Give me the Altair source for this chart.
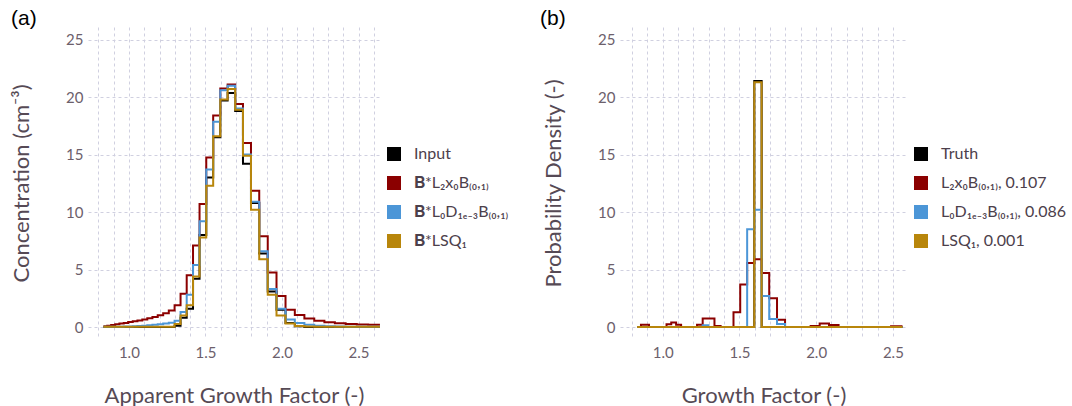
import altair as alt
import pandas as pd

# ---------------- data ----------------
edges = [0.8336, 0.8586, 0.8843, 0.9109, 0.9382, 0.9663, 0.9953, 1.0252, 1.0559, 1.0876,
         1.1202, 1.1538, 1.1884, 1.2240, 1.2607, 1.2985, 1.3375, 1.3776, 1.4189, 1.4615,
         1.5053, 1.5505, 1.5970, 1.6449, 1.6942, 1.7451, 1.7974, 1.8513, 1.9069, 1.9641,
         2.0230, 2.0837, 2.1462, 2.2106, 2.2769, 2.3452, 2.4156, 2.4881, 2.5627, 2.6396]

names_a = ["Input", "𝐁*L₂x₀B₍₀,₁₎", "𝐁*L₀D₁ₑ₋₃B₍₀,₁₎", "𝐁*LSQ₁"]
names_b = ["Truth", "L₂x₀B₍₀,₁₎, 0.107", "L₀D₁ₑ₋₃B₍₀,₁₎, 0.086", "LSQ₁, 0.001"]
colors = ["#000000", "#8B0000", "#4C96D7", "#B8860B"]

a_input = [0, 0, 0, 0, 0, 0, 0, 0, 0, 0, 0, 0, 0, 0, 0, 0.12, 0.8, 1.6, 4.2, 8.0,
           13.0, 16.5, 19.7, 20.35, 18.8, 14.2, 10.8, 6.4, 3.1, 1.5, 0.35, 0.08, 0, 0, 0,
           0, 0, 0, 0]
a_l2 = [0.08, 0.12, 0.18, 0.24, 0.3, 0.36, 0.43, 0.5, 0.58, 0.66, 0.76, 0.88, 1.02, 1.2,
        1.45, 1.9, 2.9, 4.5, 7.1, 10.7, 14.75, 18.4, 20.75, 21.1, 19.4, 16.0, 11.85, 7.9,
        4.75, 2.7, 1.5, 1.04, 0.75, 0.55, 0.42, 0.33, 0.27, 0.22, 0.19]
a_l0 = [0.02, 0.02, 0.02, 0.02, 0.03, 0.04, 0.05, 0.07, 0.09, 0.12, 0.15, 0.19, 0.24, 0.3,
        0.38, 0.55, 1.3, 2.8, 5.4, 9.2, 13.7, 17.85, 20.6, 21.0, 19.0, 15.0, 10.9, 6.6,
        3.3, 1.6, 0.65, 0.35, 0.2, 0.12, 0.08, 0.05, 0.03, 0.03, 0.03]
a_lsq = [0.02, 0.02, 0.02, 0.02, 0.02, 0.02, 0.02, 0.02, 0.02, 0.02, 0.02, 0.02, 0.02, 0.02,
         0.03, 0.26, 1.0, 1.9, 4.4, 7.8, 12.3, 16.6, 19.8, 20.7, 18.9, 14.9, 10.2, 5.9,
         2.8, 1.0, 0.3, 0.1, 0.04, 0.02, 0.02, 0.02, 0.02, 0.02, 0.02]

b_truth = [0, 0, 0, 0, 0, 0, 0, 0, 0, 0, 0, 0, 0, 0, 0, 0, 0, 0, 0, 0,
           0, 0, 21.4, 0, 0, 0, 0, 0, 0, 0, 0, 0, 0, 0, 0, 0, 0, 0]
b_l2 = [0, 0.2, 0.2, 0, 0, 0, 0, 0.25, 0.4, 0.2, 0, 0, 0, 0.2, 0.75, 0.75, 0.1, 0, 0, 1.28,
        3.7, 5.57, 5.9, 4.7, 2.5, 0.64, 0, 0, 0, 0.1, 0.3, 0.18, 0, 0, 0, 0, 0, 0.08]
b_l0 = [0, 0, 0, 0, 0, 0, 0, 0, 0, 0, 0, 0, 0, 0, 0.15, 0, 0, 0, 0, 0,
        0, 8.5, 10.2, 2.7, 0.7, 0.26, 0, 0, 0, 0, 0, 0, 0, 0, 0, 0, 0, 0]
b_lsq = [0, 0, 0, 0, 0, 0, 0, 0, 0, 0, 0, 0, 0, 0, 0, 0, 0, 0, 0, 0,
         0, 0, 21.3, 0, 0, 0, 0, 0, 0, 0, 0, 0, 0, 0, 0, 0, 0, 0]

x_grid = [0.8, 0.9, 1.0, 1.1, 1.2, 1.3, 1.4, 1.5, 1.6, 1.7, 1.8, 1.9, 2.0, 2.1, 2.2,
          2.3, 2.4, 2.5, 2.6]
y_grid = [0, 5, 10, 15, 20, 25]


def frame(values, name):
    vals = list(values) + [values[-1]]
    return pd.DataFrame({"x": edges[:len(vals)], "y": vals, "series": name})


df_a = pd.concat([frame(v, n) for v, n in zip([a_input, a_l2, a_l0, a_lsq], names_a)])
df_b = pd.concat([frame(v, n) for v, n in zip([b_truth, b_l2, b_l0, b_lsq], names_b)])

FONT = "Lato"
W_A, W_B, H = 292, 287, 312
LABEL_EXPR = ("abs(datum.value*2 - round(datum.value*2)) < 0.001 ? "
              "format(datum.value, '.1f') : ''")


def x_axis(title):
    return alt.Axis(title=title, values=x_grid, labelExpr=LABEL_EXPR, domain=False,
                    ticks=False, grid=True, gridColor="#D0D0E0", gridDash=[3, 3],
                    labelFont=FONT, labelFontSize=15, labelColor="#6C606B",
                    labelPadding=6, labelFlush=False, labelOverlap=False,
                    titleFont=FONT, titleFontSize=22, titleFontWeight="normal",
                    titleColor="#564A55", titleY=56, titleBaseline="middle")


def y_axis(title):
    return alt.Axis(title=title, values=y_grid, domain=False, ticks=False, grid=True,
                    gridColor="#D0D0E0", gridDash=[3, 3], labelFont=FONT,
                    labelFontSize=15, labelColor="#6C606B", labelPadding=5,
                    titleFont=FONT, titleFontSize=22, titleFontWeight="normal",
                    titleColor="#564A55", titleAngle=-90, titleX=-67, titleY=H / 2,
                    titleAlign="center", titleBaseline="middle")


def panel(df, names, xdom, width, xtitle, ytitle, tag, tag_dx):
    xenc = alt.X("x:Q", scale=alt.Scale(domain=xdom, nice=False, zero=False),
                 axis=x_axis(xtitle))
    yenc = alt.Y("y:Q", scale=alt.Scale(domain=[-1.04, 26.1], nice=False, zero=False),
                 axis=y_axis(ytitle))
    cscale = alt.Scale(domain=names, range=colors)
    legend = alt.Legend(title=None, orient="none", legendX=width + 6, legendY=119,
                        symbolType="square", symbolSize=196, symbolStrokeWidth=0,
                        labelFont=FONT, labelFontSize=16, labelColor="#4C404B",
                        labelOffset=12, rowPadding=13, padding=0, labelLimit=300)
    base = alt.Chart(df).mark_line(interpolate="step-after", strokeWidth=2, clip=True).encode(
        x=xenc, y=yenc,
        stroke=alt.Stroke("series:N", scale=cscale, sort=names, legend=None),
    )
    layers = [base.transform_filter(alt.datum.series == n) for n in names]
    keys = alt.Chart(df).mark_square(size=0, filled=True, opacity=1).encode(
        x=xenc, y=yenc,
        fill=alt.Fill("series:N", scale=cscale, sort=names, legend=legend),
    )
    label = alt.Chart(pd.DataFrame({"tag": [tag]})).mark_text(
        align="left", baseline="middle", font="Liberation Sans", fontSize=21,
        color="#000000",
    ).encode(x=alt.value(tag_dx), y=alt.value(-8), text="tag:N")
    return alt.layer(keys, *layers, label).properties(width=width, height=H)


pa = panel(df_a, names_a, [0.733, 2.64], W_A, "Apparent Growth Factor (-)",
           "Concentration (cm⁻³)", "(a)", -77)
pb = panel(df_b, names_b, [0.722, 2.592], W_B, "Growth Factor (-)",
           "Probability Density (-)", "(b)", -80)

chart = alt.hconcat(pa, pb, spacing=240, bounds="flush").resolve_scale(
    fill="independent", stroke="independent", x="independent", y="independent"
).configure_view(stroke=None).properties(
    padding={"left": 10, "top": 8, "right": 0, "bottom": 0},
    background="white",
)

chart.save("out.html", embed_options={"renderer": "svg", "actions": False})
